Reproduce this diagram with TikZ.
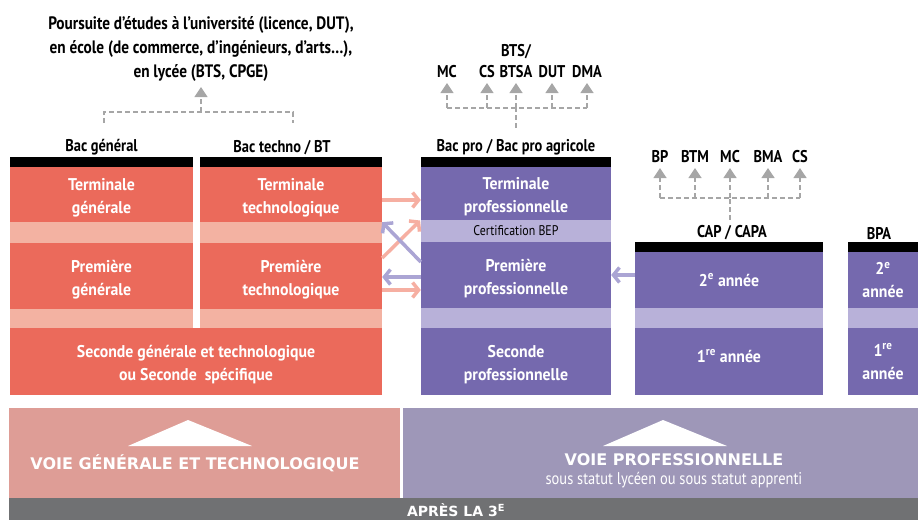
\documentclass[tikz,border=0pt]{standalone}
\usepackage{fontspec}
\setmainfont[FakeStretch=0.85]{PT Sans}
\newfontfamily\blkfont[FakeStretch=0.93]{PT Sans}
\newfontfamily\widefont{DejaVu Sans}
\usetikzlibrary{arrows.meta, positioning}

\definecolor{rouge}{HTML}{EB6A5B}
\definecolor{rougepale}{HTML}{F3B2A2}
\definecolor{violet}{HTML}{7569AE}
\definecolor{violetpale}{HTML}{B8B1D9}
\definecolor{fondrose}{HTML}{DE9D96}
\definecolor{fondviolet}{HTML}{9E97B8}
\definecolor{gris}{HTML}{707173}
\definecolor{grisfleche}{HTML}{A6A6A6}
\definecolor{flecherose}{HTML}{F6AFA2}
\definecolor{flecheviolet}{HTML}{ABA5D4}

\tikzset{
  blk/.style={inner sep=0pt, align=center, text=white, font=\blkfont\fontsize{17}{23}\bfseries\selectfont},
  deux/.style={text height=42pt},
  rblk/.style={blk, deux, fill=rouge},
  pblk/.style={blk, fill=violet},
  bande/.style={inner sep=0pt},
  barre/.style={fill=black, inner sep=0pt, minimum height=10},
  lbl/.style={inner sep=2pt, align=center, font=\fontsize{17}{21}\bfseries\selectfont},
  pointille/.style={dash pattern=on 5pt off 3pt, grisfleche, line width=1.3pt},
  montee/.style={pointille, -{Triangle[width=13pt, length=10pt]}, shorten >=3pt},
  passerelle/.style={line width=3.5pt, -{Straight Barb[length=6pt, width=15pt]}},
  bandeau/.style={text=white, font=\widefont\fontsize{16}{20}\bfseries\selectfont}
}

\begin{document}
\begin{tikzpicture}[x=1pt, y=-1pt]
\useasboundingbox (0,0) rectangle (918,520);

% voie generale et technologique
\node[barre, minimum width=183] (bgbar) at (101.5,162) {};
\node[barre, minimum width=182] (btbar) at (291,162) {};
\node[lbl, anchor=south] (bg) at (bgbar.north) {Bac général};
\node[lbl, anchor=south] (bt) at ([xshift=-9pt]btbar.north) {Bac techno / BT};

\node[rblk, minimum width=183, minimum height=55] (tg) at (101.5,194.5) {Terminale\\générale};
\node[rblk, minimum width=182, minimum height=55] (tt) at (291,194.5) {Terminale\\technologique};
\node[bande, fill=rougepale, minimum width=183, minimum height=21] (bg1) at (101.5,232.5) {};
\node[bande, fill=rougepale, minimum width=182, minimum height=21] (bt1) at (291,232.5) {};
\node[rblk, minimum width=183, minimum height=66] (pg) at (101.5,276) {Première\\générale};
\node[rblk, minimum width=182, minimum height=66] (pt) at (291,276) {Première\\technologique};
\node[bande, fill=rougepale, minimum width=183, minimum height=19] (bg2) at (101.5,318.5) {};
\node[bande, fill=rougepale, minimum width=182, minimum height=19] (bt2) at (291,318.5) {};
\node[rblk, minimum width=372, minimum height=67] (sg) at (196,361.5) {Seconde générale et technologique\\ou Seconde\ \ spécifique};

\node[lbl, anchor=south, font=\fontsize{18}{24}\bfseries\selectfont] (poursuite) at (201,84)
  {Poursuite d’études à l’université (licence, DUT),\\en école (de commerce, d’ingénieurs, d’arts…),\\en lycée (BTS, CPGE)};
\coordinate (gA) at (104,123);
\coordinate (gB) at (293,123);
\coordinate (gM) at (201,112);
\draw[pointille] (gA) |- (gM) -| (gB);
\draw[montee] (gM) -- (poursuite.south);

% voie professionnelle
\node[barre, minimum width=190] (bpbar) at (516,162) {};
\node[lbl, anchor=south] (bp) at (bpbar.north) {Bac pro / Bac pro agricole};
\node[pblk, deux, minimum width=190, minimum height=53] (tp) at (516,193.5) {Terminale\\professionnelle};
\node[bande, fill=violetpale, minimum width=190, minimum height=22, font=\fontsize{14}{16}\selectfont] (cert) at (516,231) {Certification BEP};
\node[pblk, deux, minimum width=190, minimum height=66] (pp) at (516,275) {Première\\professionnelle};
\node[bande, fill=violetpale, minimum width=190, minimum height=20] (bp2) at (516,318) {};
\node[pblk, deux, minimum width=190, minimum height=67] (sp) at (516,361.5) {Seconde\\professionnelle};

\foreach \nom/\x/\txt in {mca/447/MC, csa/487/CS, btsa/516/{BTS/\\BTSA}, dut/552/DUT, dma/587/DMA}
  \node[lbl, anchor=south] (\nom) at (\x,80) {\txt};
\coordinate (pM) at (516,108);
\coordinate (pB) at (516,128);
\draw[pointille] (pB) -- (pM);
\draw[pointille] (mca |- pM) -- (dma |- pM);
\foreach \nom in {mca, csa, btsa, dut, dma}
  \draw[montee] (\nom |- pM) -- (\nom.south);

% CAP / CAPA
\node[barre, minimum width=188] (capbar) at (729,247) {};
\node[lbl, anchor=south] (cap) at ([xshift=3pt]capbar.north) {CAP / CAPA};
\node[pblk, minimum width=188, minimum height=56] (cap2) at (729,280) {2\textsuperscript{e} année};
\node[bande, fill=violetpale, minimum width=188, minimum height=20] (capb) at (729,318) {};
\node[pblk, text depth=11pt, minimum width=188, minimum height=67] (cap1) at (729,361.5) {1\textsuperscript{re} année};

\foreach \nom/\x/\txt in {bpb/660/BP, btm/695/BTM, mcb/730/MC, bma/768/BMA, csb/800/CS}
  \node[lbl, anchor=south] (\nom) at (\x,165) {\txt};
\coordinate (cM) at (730,198);
\coordinate (cB) at (730,220);
\draw[pointille] (cB) -- (cM);
\draw[pointille] (bpb |- cM) -- (csb |- cM);
\foreach \nom in {bpb, btm, mcb, bma, csb}
  \draw[montee] (\nom |- cM) -- (\nom.south);

% BPA
\node[barre, minimum width=70] (bpabar) at (883,247) {};
\node[lbl, anchor=south] (bpa) at ([xshift=-4pt]bpabar.north) {BPA};
\node[pblk, minimum width=70, minimum height=56] (bpa2) at (883,280) {2\textsuperscript{e}\\année};
\node[bande, fill=violetpale, minimum width=70, minimum height=20] (bpab) at (883,318) {};
\node[pblk, minimum width=70, minimum height=67] (bpa1) at (883,361.5) {1\textsuperscript{re}\\année};

% passerelles
\coordinate (a1) at ([yshift=-5.5pt]tt.east);
\draw[passerelle, flecherose] (a1) -- (a1 -| tp.west) ;
\coordinate (a2) at ([yshift=18pt]pt.east);
\draw[passerelle, flecherose, shorten >=1pt] (a2) -- (cert.north west);
\coordinate (a3) at ([yshift=13pt]pp.west);
\draw[passerelle, flecheviolet] (a3) -- (tt.south east);
\coordinate (a4) at ([yshift=-2pt]pp.west);
\draw[passerelle, flecheviolet] (a4) -- (a4 -| pt.east);
\coordinate (a5) at ([yshift=-14pt]pt.east);
\draw[passerelle, flecherose] (a5) -- (a5 -| pp.west);
\coordinate (a6) at ([yshift=5pt]cap2.west);
\draw[passerelle, flecheviolet] (a6) -- (a6 -| pp.east);

% bandeau du bas
\fill[fondrose] (9,408) rectangle (400,498);
\fill[fondviolet] (403,408) rectangle (918,498);
\fill[gris] (9,498) rectangle (918,520);
\fill[white] (128,446) -- (188,420) -- (252,446) -- cycle;
\fill[white] (603,446) -- (663,420) -- (727,446) -- cycle;
\node[bandeau] (voieg) at (195,463) {VOIE GÉNÉRALE ET TECHNOLOGIQUE};
\node[bandeau] (voiep) at (674,460) {VOIE PROFESSIONNELLE};
\node[text=white, font=\fontsize{17}{20}\selectfont, below=-1pt of voiep] (statut) {sous statut lycéen ou sous statut apprenti};
\node[bandeau, font=\widefont\fontsize{14}{18}\bfseries\selectfont] (apres) at (456,510) {APRÈS LA 3\textsuperscript{E}};
\end{tikzpicture}
\end{document}
